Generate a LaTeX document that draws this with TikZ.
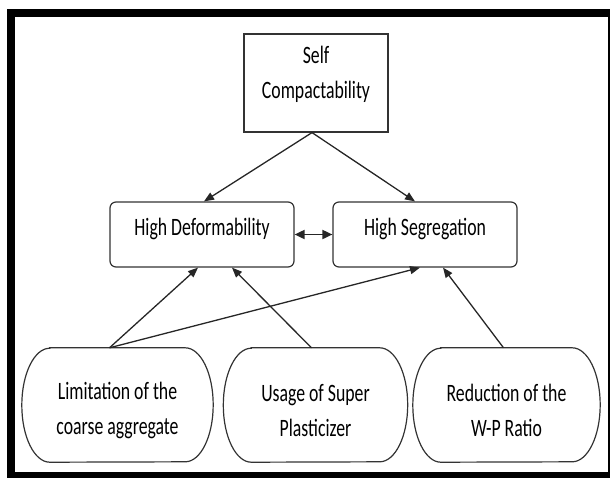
\documentclass[tikz,border=0pt]{standalone}
\usepackage{fontspec}
\setmainfont{Carlito}[FakeStretch=0.71]
\usetikzlibrary{arrows.meta}
\tikzset{
	topbox/.style={draw=black!80, line width=1.2pt, minimum width=144pt, minimum height=98pt, inner sep=0pt, align=center, text depth=21pt},
	box/.style={draw=black!80, line width=1.2pt, rounded corners=6pt, minimum width=184pt, minimum height=65pt, inner sep=0pt, text height=17pt, text depth=15pt},
	oval/.style={minimum height=114pt, inner sep=0pt, align=center, text height=64pt},
	conn/.style={draw=black!85, line width=1.3pt, -{Triangle[length=10pt,width=8pt]}}
}
\def\ovalline(#1){\draw[draw=black!80, line width=1.2pt] ([xshift=28pt]#1.north west) -- ([xshift=-28pt]#1.north east) arc[start angle=90, end angle=-90, x radius=28pt, y radius=57pt] -- ([xshift=28pt]#1.south west) arc[start angle=270, end angle=90, x radius=28pt, y radius=57pt] -- cycle;}
\begin{document}
\begin{tikzpicture}[x=1pt, y=-1pt, font=\fontsize{25}{35}\selectfont]
		%%%%% START %%%%%
		\useasboundingbox (0,0) rectangle (610,477);
		\draw[line width=8pt] (11,13) rectangle (612,476);
		
		\node[topbox] (self) at (316,83) {Self\\Compactability};
		
		\node[box] (def) at (202,234.5) {High Deformability};
		\node[box] (seg) at (425,234.5) {High Segregation};
		
		\node[oval, minimum width=191pt] (lim) at (117.5,405) {Limitation of the\\coarse aggregate};
		\node[oval, minimum width=184pt] (use) at (315.5,405) {Usage of Super\\Plasticizer};
		\node[oval, minimum width=187pt] (red) at (506.5,405) {Reduction of the\\W-P Ratio};
		\ovalline(lim)
		\ovalline(use)
		\ovalline(red)
		
		\draw[conn] ([xshift=-4pt]self.south) -- ([xshift=2pt]def.north);
		\draw[conn] ([xshift=-4pt]self.south) -- ([xshift=-10pt]seg.north);
		\draw[conn, line width=1.8pt, {Triangle[length=10pt,width=9pt]}-{Triangle[length=10pt,width=9pt]}] (def.east) -- (seg.west);
		
		\draw[conn] ([xshift=-8pt]lim.north) -- ([xshift=-4pt]def.south);
		\draw[conn] ([xshift=-8pt]lim.north) -- ([xshift=-5pt]seg.south);
		\draw[conn] ([xshift=-4pt]use.north) -- ([xshift=30pt]def.south);
		\draw[conn] ([xshift=-3pt]red.north) -- ([xshift=18pt]seg.south);
		%%%%% END %%%%%
\end{tikzpicture}
\end{document}
